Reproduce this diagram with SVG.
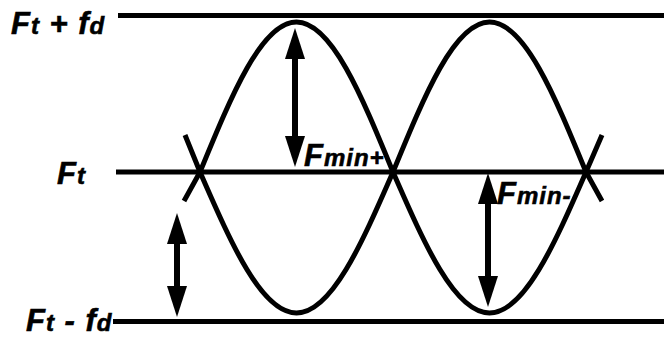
<svg xmlns="http://www.w3.org/2000/svg" width="664" height="338" viewBox="0 0 664 338">
<style>
.lvl{stroke:#000;stroke-width:5;fill:none}
.wave{stroke:#000;stroke-width:5;fill:none;stroke-linejoin:round}
.arr{stroke:#000;stroke-width:6;fill:none;marker-start:url(#head);marker-end:url(#head)}
.lbl{font-family:"Liberation Sans",Arial,sans-serif;font-weight:bold;font-style:italic;fill:#000;stroke:#000;stroke-width:0.6;letter-spacing:1px}
.big{font-size:31px}
.sm{font-size:24px}
</style>
<defs>
<marker id="head" markerUnits="userSpaceOnUse" markerWidth="31" markerHeight="20" viewBox="0 0 31 20" refX="16" refY="10" orient="auto-start-reverse">
<path d="M0,0 L31,10 L0,20 Z" fill="#000"/>
</marker>
</defs>
<rect width="664" height="338" fill="#fff"/>
<g id="level-top"><line class="lvl" x1="118" y1="15.5" x2="664" y2="15.5"/></g>
<g id="level-mid"><line class="lvl" x1="116" y1="172" x2="664" y2="172"/></g>
<g id="level-bot"><line class="lvl" x1="113" y1="321.5" x2="664" y2="321.5"/></g>
<g id="wave-1"><path class="wave" d="M184,201 L200,172 C231.5,95.2 261.6,22 296.5,22 C331.4,22 361.5,95.2 393,172 C424.5,244.2 454.6,313 489.5,313 C524.4,313 554.5,244.2 586,172 L602,135"/></g>
<g id="wave-2"><path class="wave" d="M185,135 L200,172 C231.5,244.2 261.6,313 296.5,313 C331.4,313 361.5,244.2 393,172 C424.5,95.2 454.6,22 489.5,22 C524.4,22 554.5,95.2 586,172 L602,201"/></g>
<g id="connectors">
<line class="arr" x1="295" y1="43" x2="295" y2="152"/>
<line class="arr" x1="488" y1="188" x2="488" y2="292"/>
<line class="arr" x1="177" y1="228" x2="177" y2="302"/>
</g>
<g id="label-top"><text class="lbl" x="11" y="34"><tspan class="big">F</tspan><tspan class="sm">t</tspan><tspan class="big"> + f</tspan><tspan class="sm">d</tspan></text></g>
<g id="label-mid"><text class="lbl" x="57" y="184"><tspan class="big">F</tspan><tspan class="sm">t</tspan></text></g>
<g id="label-bot"><text class="lbl" x="26" y="331"><tspan class="big">F</tspan><tspan class="sm">t</tspan><tspan class="big"> - f</tspan><tspan class="sm">d</tspan></text></g>
<g id="label-fminplus"><text class="lbl" x="304" y="166"><tspan class="big">F</tspan><tspan class="sm">min+</tspan></text></g>
<g id="label-fminminus"><text class="lbl" x="497" y="204"><tspan class="big">F</tspan><tspan class="sm">min-</tspan></text></g>
</svg>
